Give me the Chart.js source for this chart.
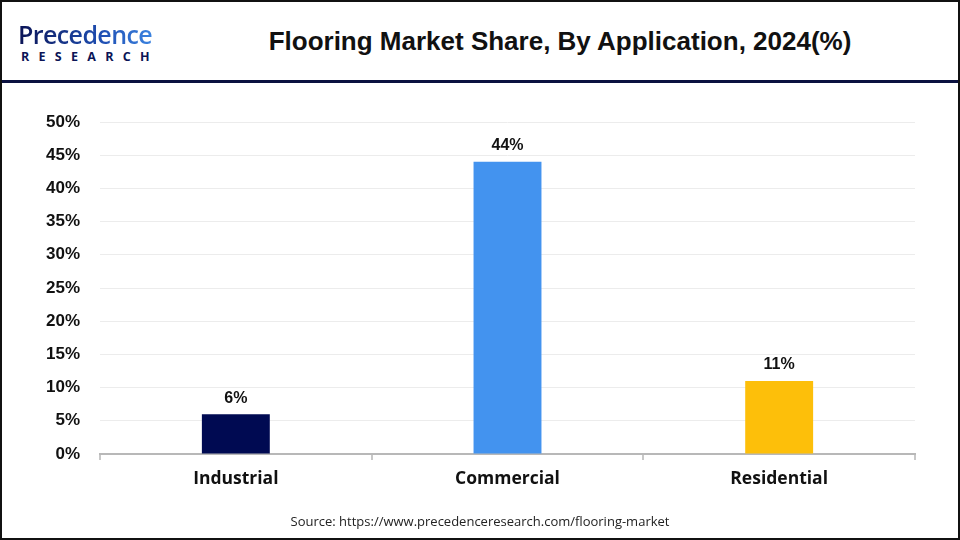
<!DOCTYPE html>
<html>
<head>
<meta charset="utf-8">
<script src="https://cdn.jsdelivr.net/npm/chart.js@4.4.1/dist/chart.umd.min.js"></script>
<style>
  html, body { margin: 0; padding: 0; background: #fff; }
  .page { position: relative; width: 960px; height: 540px; box-sizing: border-box; border: 2px solid #111; overflow: hidden; font-family: "Liberation Sans", Arial, sans-serif; }
  .header { position: absolute; left: 0; top: 0; width: 956px; height: 78px; border-bottom: 3px solid #0b1140; }
  .logo { position: absolute; left: 16px; top: 18px; }
  .logo .big { font-family: "Open Sans", sans-serif; font-size: 25px; font-weight: 600; letter-spacing: -0.6px; line-height: 28px;
    background: linear-gradient(90deg, #0b1456 0%, #1f4fb3 60%, #3f8ae6 100%); -webkit-background-clip: text; background-clip: text; color: transparent; }
  .logo .small { font-family: "Open Sans", sans-serif; font-size: 12.5px; font-weight: 700; color: #0b1456; letter-spacing: 9.3px; margin-left: 3px; }
  .title { position: absolute; left: 160px; right: 0; top: 24px; text-align: center; font-size: 26px; font-weight: 700; color: #111; }
  .source { position: absolute; left: 0; right: 0; top: 510px; text-align: center; font-family: "Open Sans", sans-serif; font-size: 13px; color: #222; }
  canvas { position: absolute; left: 0; top: 0; }
</style>
</head>
<body>
<div class="page">
  <div class="header">
    <div class="logo"><div class="big">Precedence</div><div class="small">RESEARCH</div></div>
    <div class="title">Flooring Market Share, By Application, 2024(%)</div>
  </div>
  <canvas id="chart" width="956" height="536"></canvas>
  <div class="source">Source: https://www.precedenceresearch.com/flooring-market</div>
</div>
<script>
// chart values
const categories = ['Industrial', 'Commercial', 'Residential'];
const shares = [6, 44, 11];
const barColors = ['#000a52', '#4393ef', '#fdbf0a'];
const yTicks = [0, 5, 10, 15, 20, 25, 30, 35, 40, 45, 50];

// value labels above the bars
const valueLabels = {
  id: 'valueLabels',
  afterDatasetsDraw(chart) {
    const ctx = chart.ctx;
    const meta = chart.getDatasetMeta(0);
    ctx.save();
    ctx.font = 'bold 16px "Liberation Sans", Arial, sans-serif';
    ctx.fillStyle = '#111';
    ctx.textAlign = 'center';
    ctx.textBaseline = 'bottom';
    meta.data.forEach((bar, i) => {
      ctx.fillText(shares[i] + '%', bar.x, bar.y - 8);
    });
    ctx.restore();
  }
};

new Chart(document.getElementById('chart').getContext('2d'), {
  type: 'bar',
  data: {
    labels: categories,
    datasets: [{
      data: shares,
      backgroundColor: barColors,
      barPercentage: 0.5,
      categoryPercentage: 0.5
    }]
  },
  options: {
    responsive: false,
    animation: false,
    layout: { padding: { left: 18, right: 43, top: 120, bottom: 46 } },
    plugins: { legend: { display: false }, tooltip: { enabled: false } },
    scales: {
      x: {
        grid: { display: true, drawOnChartArea: false, offset: true, tickLength: 6, color: '#c8c8c8', lineWidth: 2 },
        border: { display: true, color: '#b8b8b8', width: 2 },
        ticks: { color: '#111', padding: 9, font: { family: '"Open Sans", sans-serif', size: 17.5, weight: 'bold' } },
        afterFit(scale) { scale.height = 38; }
      },
      y: {
        min: 0,
        max: 50,
        afterBuildTicks(scale) { scale.ticks = yTicks.map(v => ({ value: v })); },
        grid: { color: '#ececec', lineWidth: 1, drawTicks: false },
        border: { display: false },
        ticks: { color: '#111', padding: 20, callback: v => v + '%', font: { family: '"Liberation Sans", Arial, sans-serif', size: 17, weight: 'bold' } },
        afterFit(scale) { scale.width = 80; }
      }
    }
  },
  plugins: [valueLabels]
});
</script>
</body>
</html>
